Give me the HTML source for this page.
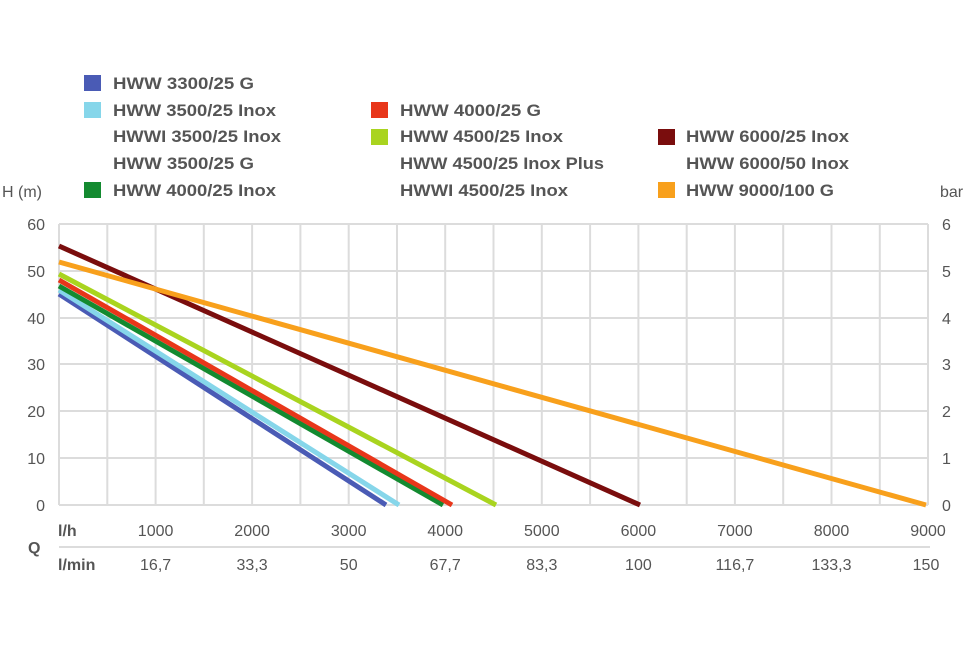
<!DOCTYPE html>
<html><head><meta charset="utf-8"><style>
html,body{margin:0;padding:0;background:#fff;}
svg{display:block;font-family:"Liberation Sans",sans-serif;}
</style></head><body>
<svg width="970" height="647" viewBox="0 0 970 647" xmlns="http://www.w3.org/2000/svg">
<g stroke="#dcdcdc" stroke-width="2" fill="none">
<line x1="59" y1="224" x2="928" y2="224"/>
<line x1="59" y1="271" x2="928" y2="271"/>
<line x1="59" y1="318" x2="928" y2="318"/>
<line x1="59" y1="364" x2="928" y2="364"/>
<line x1="59" y1="411" x2="928" y2="411"/>
<line x1="59" y1="458" x2="928" y2="458"/>
<line x1="59" y1="505" x2="928" y2="505"/>
<line x1="59" y1="224" x2="59" y2="505"/>
<line x1="107.3" y1="224" x2="107.3" y2="505"/>
<line x1="155.6" y1="224" x2="155.6" y2="505"/>
<line x1="203.8" y1="224" x2="203.8" y2="505"/>
<line x1="252.1" y1="224" x2="252.1" y2="505"/>
<line x1="300.4" y1="224" x2="300.4" y2="505"/>
<line x1="348.7" y1="224" x2="348.7" y2="505"/>
<line x1="397" y1="224" x2="397" y2="505"/>
<line x1="445.2" y1="224" x2="445.2" y2="505"/>
<line x1="493.5" y1="224" x2="493.5" y2="505"/>
<line x1="541.8" y1="224" x2="541.8" y2="505"/>
<line x1="590.1" y1="224" x2="590.1" y2="505"/>
<line x1="638.4" y1="224" x2="638.4" y2="505"/>
<line x1="686.7" y1="224" x2="686.7" y2="505"/>
<line x1="734.9" y1="224" x2="734.9" y2="505"/>
<line x1="783.2" y1="224" x2="783.2" y2="505"/>
<line x1="831.5" y1="224" x2="831.5" y2="505"/>
<line x1="879.8" y1="224" x2="879.8" y2="505"/>
<line x1="928" y1="224" x2="928" y2="505"/>
<line x1="59" y1="547" x2="930" y2="547"/>
</g>
<g stroke-width="5" stroke-linecap="butt" fill="none">
<line x1="59" y1="294" x2="386" y2="505" stroke="#4a5bb5"/>
<line x1="59" y1="290" x2="399" y2="505" stroke="#86d6ea"/>
<line x1="59" y1="286" x2="443" y2="505" stroke="#138a30"/>
<line x1="59" y1="280" x2="452" y2="505" stroke="#e8361a"/>
<line x1="59" y1="274" x2="496" y2="505" stroke="#a9d41f"/>
<line x1="59" y1="246" x2="640" y2="505" stroke="#7a0d0d"/>
<line x1="59" y1="262" x2="926" y2="505" stroke="#f8a01c"/>
</g>
<g fill="#555" font-size="16">
<text x="45" y="230" text-anchor="end">60</text>
<text x="45" y="277" text-anchor="end">50</text>
<text x="45" y="324" text-anchor="end">40</text>
<text x="45" y="370" text-anchor="end">30</text>
<text x="45" y="417" text-anchor="end">20</text>
<text x="45" y="464" text-anchor="end">10</text>
<text x="45" y="511" text-anchor="end">0</text>
<text x="942" y="230">6</text>
<text x="942" y="277">5</text>
<text x="942" y="324">4</text>
<text x="942" y="370">3</text>
<text x="942" y="417">2</text>
<text x="942" y="464">1</text>
<text x="942" y="511">0</text>
<text x="155.6" y="536" text-anchor="middle">1000</text>
<text x="252.1" y="536" text-anchor="middle">2000</text>
<text x="348.7" y="536" text-anchor="middle">3000</text>
<text x="445.2" y="536" text-anchor="middle">4000</text>
<text x="541.8" y="536" text-anchor="middle">5000</text>
<text x="638.4" y="536" text-anchor="middle">6000</text>
<text x="734.9" y="536" text-anchor="middle">7000</text>
<text x="831.5" y="536" text-anchor="middle">8000</text>
<text x="928" y="536" text-anchor="middle">9000</text>
<text x="155.6" y="570" text-anchor="middle">16,7</text>
<text x="252.1" y="570" text-anchor="middle">33,3</text>
<text x="348.7" y="570" text-anchor="middle">50</text>
<text x="445.2" y="570" text-anchor="middle">67,7</text>
<text x="541.8" y="570" text-anchor="middle">83,3</text>
<text x="638.4" y="570" text-anchor="middle">100</text>
<text x="734.9" y="570" text-anchor="middle">116,7</text>
<text x="831.5" y="570" text-anchor="middle">133,3</text>
<text x="926" y="570" text-anchor="middle">150</text>
<text x="2" y="197" font-size="16">H (m)</text>
<text x="940" y="197" font-size="16">bar</text>
</g>
<g fill="#555" font-size="16" font-weight="bold">
<text x="58" y="536">l/h</text>
<text x="58" y="570">l/min</text>
<text x="28" y="553">Q</text>
</g>
<g>
<rect x="84" y="75" width="17" height="16" fill="#4a5bb5"/>
<rect x="84" y="102" width="17" height="16" fill="#86d6ea"/>
<rect x="84" y="182" width="17" height="16" fill="#138a30"/>
<rect x="371" y="102" width="17" height="16" fill="#e8361a"/>
<rect x="371" y="129" width="17" height="16" fill="#a9d41f"/>
<rect x="658" y="129" width="17" height="16" fill="#7a0d0d"/>
<rect x="658" y="182" width="17" height="16" fill="#f8a01c"/>
</g>
<g fill="#555" font-size="17" font-weight="bold">
<text x="113" y="89" textLength="141" lengthAdjust="spacingAndGlyphs">HWW 3300/25 G</text>
<text x="113" y="116" textLength="163" lengthAdjust="spacingAndGlyphs">HWW 3500/25 Inox</text>
<text x="113" y="142" textLength="168" lengthAdjust="spacingAndGlyphs">HWWI 3500/25 Inox</text>
<text x="113" y="169" textLength="141" lengthAdjust="spacingAndGlyphs">HWW 3500/25 G</text>
<text x="113" y="196" textLength="163" lengthAdjust="spacingAndGlyphs">HWW 4000/25 Inox</text>
<text x="400" y="116" textLength="141" lengthAdjust="spacingAndGlyphs">HWW 4000/25 G</text>
<text x="400" y="142" textLength="163" lengthAdjust="spacingAndGlyphs">HWW 4500/25 Inox</text>
<text x="400" y="169" textLength="204" lengthAdjust="spacingAndGlyphs">HWW 4500/25 Inox Plus</text>
<text x="400" y="196" textLength="168" lengthAdjust="spacingAndGlyphs">HWWI 4500/25 Inox</text>
<text x="686" y="142" textLength="163" lengthAdjust="spacingAndGlyphs">HWW 6000/25 Inox</text>
<text x="686" y="169" textLength="163" lengthAdjust="spacingAndGlyphs">HWW 6000/50 Inox</text>
<text x="686" y="196" textLength="148" lengthAdjust="spacingAndGlyphs">HWW 9000/100 G</text>
</g>
</svg>
</body></html>
